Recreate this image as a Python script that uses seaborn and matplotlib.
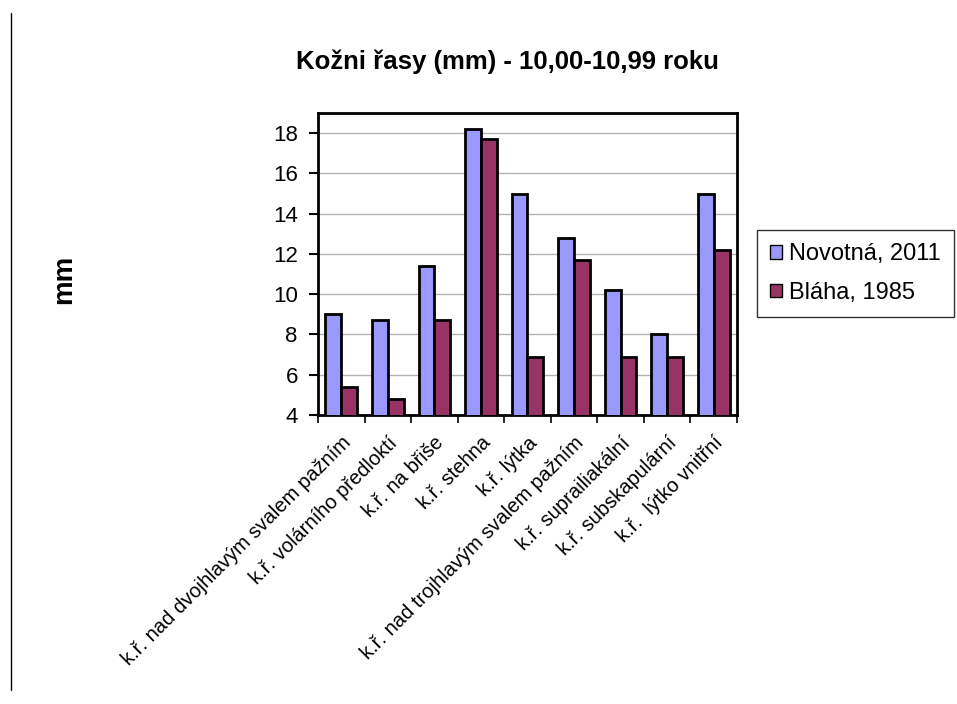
import matplotlib
matplotlib.use("Agg")
import matplotlib.pyplot as plt
from matplotlib.lines import Line2D
from matplotlib.patches import Patch
import numpy as np
import pandas as pd
import seaborn as sns

categories = [
    "k.ř. nad dvojhlavým svalem pažním",
    "k.ř. volárního předloktí",
    "k.ř. na břiše",
    "k.ř. stehna",
    "k.ř. lýtka",
    "k.ř. nad trojhlavým svalem pažním",
    "k.ř. suprailiakální",
    "k.ř. subskapulární",
    "k.ř.  lýtko vnitřní",
]
series_names = ["Novotná, 2011", "Bláha, 1985"]
novotna = [9.0, 8.7, 11.4, 18.2, 15.0, 12.8, 10.2, 8.0, 15.0]
blaha = [5.4, 4.8, 8.7, 17.7, 6.9, 11.7, 6.9, 6.9, 12.2]
y_ticks = [4, 6, 8, 10, 12, 14, 16, 18]

colors = ["#9999FF", "#993366"]

df = pd.DataFrame({
    "kategorie": categories * 2,
    "hodnota": novotna + blaha,
    "serie": [series_names[0]] * len(categories) + [series_names[1]] * len(categories),
})

sns.set_theme(style="white")
plt.rcParams["font.family"] = ["Liberation Sans", "DejaVu Sans"]
plt.rcParams["text.color"] = "black"
plt.rcParams["xtick.color"] = "black"
plt.rcParams["ytick.color"] = "black"
plt.rcParams["axes.labelcolor"] = "black"

fig = plt.figure(figsize=(9.57, 7.04), dpi=100)
ax = fig.add_axes([0.3323, 0.4105, 0.4378, 0.429])

sns.barplot(
    data=df, x="kategorie", y="hodnota", hue="serie",
    palette=colors, width=0.68, gap=0, dodge=True,
    edgecolor="black", linewidth=2.0, saturation=1,
    legend=False, ax=ax, zorder=3,
)

ax.set_ylim(4, 19)
ax.set_xlim(-0.5, len(categories) - 0.5)
ax.set_yticks(y_ticks)
ax.set_yticklabels([str(t) for t in y_ticks], fontsize=16)
for t in y_ticks[1:]:
    ax.axhline(t, color="#b3b3b3", lw=1.0, zorder=1)

# category labels, tick marks at the boundaries between groups
ax.set_xticks(range(len(categories)))
ax.set_xticklabels(categories, rotation=45, ha="right", rotation_mode="anchor",
                   fontsize=14.5)
ax.set_xticks(np.arange(-0.5, len(categories), 1.0), minor=True)
ax.tick_params(axis="x", which="major", length=0, pad=13)
ax.tick_params(axis="x", which="minor", length=6, width=1.2, color="black",
               direction="out", bottom=True)
ax.tick_params(axis="y", length=6.5, width=1.5, color="black", direction="out",
               left=True, pad=8)

for s in ax.spines.values():
    s.set_color("black")
    s.set_linewidth(2.0)

ax.set_xlabel("")
ax.set_ylabel("")

fig.text(0.530, 0.912, "Kožni řasy (mm) - 10,00-10,99 roku", ha="center",
         va="center", fontsize=18.5, fontweight="bold")
fig.text(0.067, 0.603, "mm", rotation=90, ha="center", va="center",
         fontsize=20, fontweight="bold")

handles = [Patch(facecolor=c, edgecolor="black", linewidth=1.0) for c in colors]
leg = fig.legend(handles, series_names, loc="upper left",
                 bbox_to_anchor=(0.791, 0.673), fontsize=17, frameon=True,
                 fancybox=False, edgecolor="black", handlelength=0.5,
                 handleheight=0.5, handletextpad=0.3, labelspacing=0.7,
                 borderpad=0.55, borderaxespad=0)
leg.get_frame().set_linewidth(1.0)

fig.add_artist(Line2D([0.0115, 0.0115], [1 - 13 / 704, 1 - 690 / 704],
                      color="black", lw=1.0))

fig.savefig("out.png", dpi=100)
